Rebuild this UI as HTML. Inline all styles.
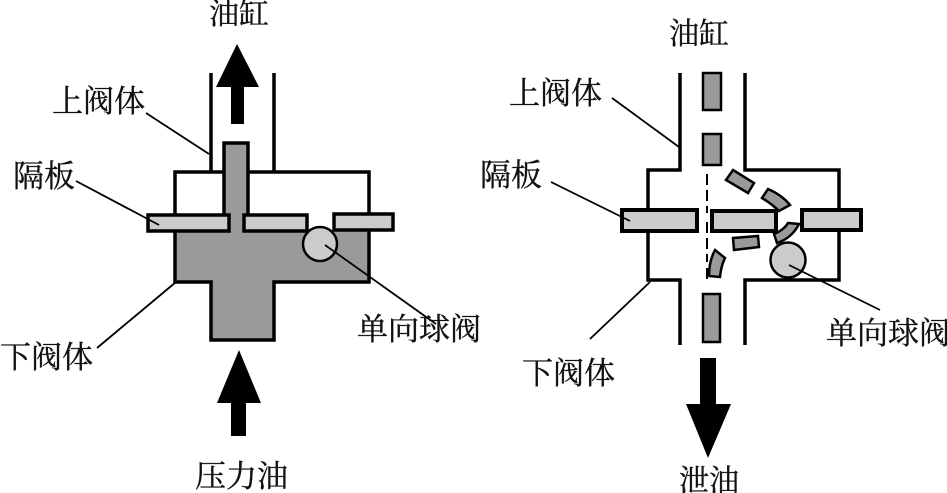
<!DOCTYPE html>
<html>
<head>
<meta charset="utf-8">
<style>
html,body{margin:0;padding:0;background:#fff;width:947px;height:493px;overflow:hidden}
svg{display:block}
text{font-family:"Liberation Serif","Noto Serif CJK SC",serif;font-size:31px;fill:#111;stroke:#111;stroke-width:.35}
</style>
</head>
<body>
<svg width="947" height="493" viewBox="0 0 947 493" xmlns="http://www.w3.org/2000/svg">
<!-- LEFT -->
<path d="M175 231H369V282H274V340H211V282H175Z" fill="#9a9a9a"/>
<rect x="224" y="143" width="25" height="95" fill="#9a9a9a"/>
<g fill="none" stroke="#000" stroke-width="3.5">
<path d="M211 73V172M274 73V172"/>
<path d="M223 172H175V282H211V340H274V282H369V172H249"/>
<path d="M224 231V143H248V231"/>
</g>
<g fill="#cbcbcb" stroke="#000" stroke-width="3.5">
<rect x="148" y="215" width="81" height="16"/>
<rect x="244" y="215" width="63" height="16"/>
<rect x="334" y="214" width="59" height="16"/>
<circle cx="320" cy="244" r="17" stroke-width="2.5"/>
</g>
<path d="M231 124V87H216L237 44L259 87H244V124Z" fill="#000"/>
<path d="M231 436V403H217L239 350L261 403H246V436Z" fill="#000"/>
<g stroke="#000" stroke-width="1.8" fill="none">
<path d="M146 113L209 154"/>
<path d="M76 181L159 225"/>
<path d="M325 245L436 324"/>
<path d="M97 348L176 282"/>
</g>
<text x="209" y="24" style="font-size:30px">油缸</text>
<text x="52" y="112">上阀体</text>
<text x="13" y="187">隔板</text>
<text x="357" y="340">单向球阀</text>
<text x="0" y="368">下阀体</text>
<text x="195" y="487">压力油</text>

<!-- RIGHT -->
<g fill="none" stroke="#000" stroke-width="3.5">
<path d="M680 73V170H648V280H680V345"/>
<path d="M745 73V170H839V280H745V345"/>
</g>
<path d="M707 174V213M707 222V262M707 268V282" stroke="#000" stroke-width="2" stroke-dasharray="11 5" fill="none"/>
<g fill="#9a9a9a" stroke="#000" stroke-width="2.5">
<rect x="703" y="73" width="18" height="37"/>
<rect x="703" y="134" width="18" height="31"/>
<rect x="703" y="294" width="17" height="48"/>
<path d="M733 170L754 183L748 193L726 180Z"/>
<path d="M768 189Q782 195 790 205L779 211Q772 204 762 198Z"/>
<path d="M733 238L758 236L759 247L734 250Z"/>
<path d="M788 223L799 224Q792 238 777 243L774 234Q784 230 788 223Z"/>
<path d="M715 250L725 258Q721 266 720 277L709 276Q709 261 715 250Z"/>
</g>
<g fill="#cbcbcb" stroke="#000" stroke-width="4">
<rect x="622" y="210" width="75" height="21"/>
<rect x="712" y="211" width="64" height="20"/>
<rect x="802" y="210" width="59" height="20"/>
<circle cx="788" cy="260" r="17.5" stroke-width="2.5"/>
</g>
<path d="M700 358H716V404H731L708 458L686 404H700Z" fill="#000"/>
<g stroke="#000" stroke-width="1.8" fill="none">
<path d="M612 98L679 147"/>
<path d="M551 182L630 221"/>
<path d="M789 265L880 310"/>
<path d="M590 339L650 282"/>
</g>
<text x="669" y="44" style="font-size:30px">油缸</text>
<text x="509" y="104">上阀体</text>
<text x="480" y="186">隔板</text>
<text x="826" y="344">单向球阀</text>
<text x="522" y="384">下阀体</text>
<text x="679" y="491" style="font-size:30px">泄油</text>
</svg>
</body>
</html>
